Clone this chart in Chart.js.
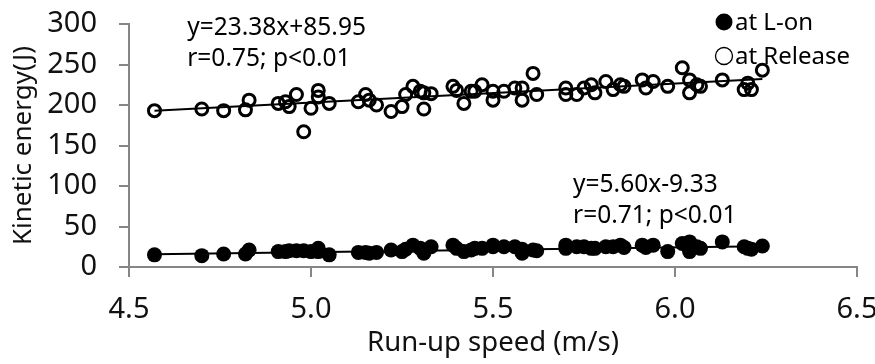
<!DOCTYPE html>
<html lang="en">
<head>
    <meta charset="UTF-8">
    <title>Kinetic energy vs run-up speed</title>
    <script src="https://cdn.jsdelivr.net/npm/chart.js"></script>
    <style>
        html, body {
            margin: 0;
            padding: 0;
            overflow: hidden;
            background: #fff;
        }
        #wrap {
            width: 875px;
            height: 364px;
        }
    </style>
</head>
<body>
    <div id="wrap"><canvas id="chart"></canvas></div>

    <script>
        // run-up speed (m/s) of each trial
        const speed = [4.57, 4.70, 4.76, 4.83, 4.82, 4.91, 4.93, 4.94, 4.96, 4.98,
                       5.00, 5.02, 5.02, 5.05, 5.13, 5.15, 5.16, 5.18, 5.22, 5.25,
                       5.26, 5.28, 5.30, 5.31, 5.33, 5.31, 5.39, 5.40, 5.42, 5.44,
                       5.45, 5.47, 5.50, 5.50, 5.53, 5.56, 5.58, 5.58, 5.61, 5.62,
                       5.70, 5.70, 5.73, 5.75, 5.77, 5.78, 5.81, 5.83, 5.85, 5.86,
                       5.91, 5.92, 5.94, 5.98, 6.02, 6.04, 6.04, 6.06, 6.07, 6.13,
                       6.19, 6.20, 6.21, 6.24];

        // kinetic energy (J) at release
        const keRelease = [193, 195, 193, 206, 194, 202, 204, 198, 213, 167,
                           196, 218, 210, 202, 204, 213, 206, 200, 192, 198,
                           213, 223, 217, 215, 214, 195, 223, 218, 202, 217,
                           217, 225, 217, 206, 217, 221, 221, 206, 239, 213,
                           221, 213, 213, 221, 225, 215, 229, 219, 225, 223,
                           231, 221, 229, 223, 246, 231, 215, 225, 223, 231,
                           219, 227, 219, 243];

        // kinetic energy (J) at L-on
        const keLon = [15, 14, 16, 21, 16, 19, 19, 20, 20, 20,
                       19, 23, 19, 15, 18, 18, 17, 18, 21, 19,
                       22, 27, 23, 17, 25, 21, 27, 23, 19, 21,
                       23, 23, 25, 27, 25, 25, 17, 22, 21, 20,
                       27, 23, 25, 25, 23, 23, 25, 25, 27, 24,
                       27, 24, 27, 19, 29, 31, 19, 25, 23, 31,
                       25, 23, 22, 26];

        // regression line ends
        const fitX = [4.57, 6.24];
        const fitRelease = [193, 232];
        const fitLon = [15.7, 25.6];

        const xTicks = [4.5, 5.0, 5.5, 6.0, 6.5];
        const yTicks = [0, 50, 100, 150, 200, 250, 300];

        const notes = [
            { x: 4.66, y: 295, lines: ['y=23.38x+85.95', 'r=0.75; p<0.01'] },
            { x: 5.72, y: 101, lines: ['y=5.60x-9.33', 'r=0.71; p<0.01'] }
        ];
        const legendItems = [
            { label: 'at L-on', filled: true },
            { label: 'at Release', filled: false }
        ];

        const FONT = '"Noto Sans", "Open Sans", sans-serif';
        const AXIS = '#868686';

        const pts = (xs, ys) => xs.map((x, i) => ({ x: x, y: ys[i] }));

        // text notes and legend drawn on top
        const overlay = {
            id: 'overlay',
            afterDatasetsDraw(chart) {
                const ctx = chart.ctx;
                const xs = chart.scales.x, ys = chart.scales.y;
                ctx.save();
                ctx.fillStyle = '#000';
                ctx.textAlign = 'left';
                ctx.textBaseline = 'middle';
                ctx.font = '24.5px ' + FONT;
                notes.forEach(n => {
                    const px = xs.getPixelForValue(n.x);
                    const py = ys.getPixelForValue(n.y);
                    n.lines.forEach((t, i) => ctx.fillText(t, px, py + i * 31));
                });

                ctx.font = '24px ' + FONT;
                legendItems.forEach((it, i) => {
                    const cy = 22 + i * 34;
                    ctx.beginPath();
                    ctx.arc(724, cy, 8.5, 0, Math.PI * 2);
                    if (it.filled) {
                        ctx.fill();
                    } else {
                        ctx.lineWidth = 1.3;
                        ctx.strokeStyle = '#000';
                        ctx.stroke();
                    }
                    ctx.fillText(it.label, 735, cy + 1);
                });
                ctx.restore();
            }
        };

        new Chart(document.getElementById('chart'), {
            type: 'scatter',
            data: {
                datasets: [
                    {
                        label: 'at L-on',
                        data: pts(speed, keLon),
                        pointRadius: 7.5,
                        pointBorderWidth: 0,
                        pointBackgroundColor: '#000',
                        pointBorderColor: '#000'
                    },
                    {
                        label: 'at Release',
                        data: pts(speed, keRelease),
                        pointRadius: 6,
                        pointBorderWidth: 3,
                        pointBackgroundColor: 'rgba(0,0,0,0)',
                        pointBorderColor: '#000'
                    },
                    {
                        label: 'fit L-on',
                        type: 'line',
                        data: pts(fitX, fitLon),
                        borderColor: '#000',
                        borderWidth: 2,
                        pointRadius: 0
                    },
                    {
                        label: 'fit Release',
                        type: 'line',
                        data: pts(fitX, fitRelease),
                        borderColor: '#000',
                        borderWidth: 2,
                        pointRadius: 0
                    }
                ]
            },
            options: {
                responsive: true,
                maintainAspectRatio: false,
                animation: false,
                layout: { padding: { top: 24, right: 18, left: 0, bottom: 0 } },
                plugins: {
                    legend: { display: false },
                    tooltip: { enabled: false }
                },
                scales: {
                    x: {
                        type: 'linear',
                        min: 4.5,
                        max: 6.5,
                        afterBuildTicks: s => { s.ticks = xTicks.map(v => ({ value: v })); },
                        afterFit: s => { s.height = 97; s.paddingLeft = 0; s.paddingRight = 0; },
                        ticks: {
                            padding: 15,
                            color: '#111',
                            font: { family: FONT, size: 29 },
                            callback: v => v.toFixed(1)
                        },
                        grid: { drawOnChartArea: false, tickLength: 10, color: AXIS, lineWidth: 2 },
                        border: { color: AXIS, width: 2 },
                        title: {
                            display: true,
                            text: 'Run-up speed (m/s)',
                            color: '#111',
                            font: { family: FONT, size: 27.5 },
                            padding: { top: 0, bottom: 4 }
                        }
                    },
                    y: {
                        min: 0,
                        max: 300,
                        afterBuildTicks: s => { s.ticks = yTicks.map(v => ({ value: v })); },
                        afterFit: s => { s.width = 129; s.paddingTop = 0; s.paddingBottom = 0; },
                        ticks: {
                            padding: 22,
                            color: '#111',
                            font: { family: FONT, size: 29 }
                        },
                        grid: { drawOnChartArea: false, tickLength: 10, color: AXIS, lineWidth: 2 },
                        border: { color: AXIS, width: 2 },
                        title: {
                            display: true,
                            text: 'Kinetic energy(J)',
                            color: '#111',
                            font: { family: FONT, size: 26 },
                            padding: { top: 8, bottom: 0 }
                        }
                    }
                }
            },
            plugins: [overlay]
        });
    </script>
</body>
</html>
